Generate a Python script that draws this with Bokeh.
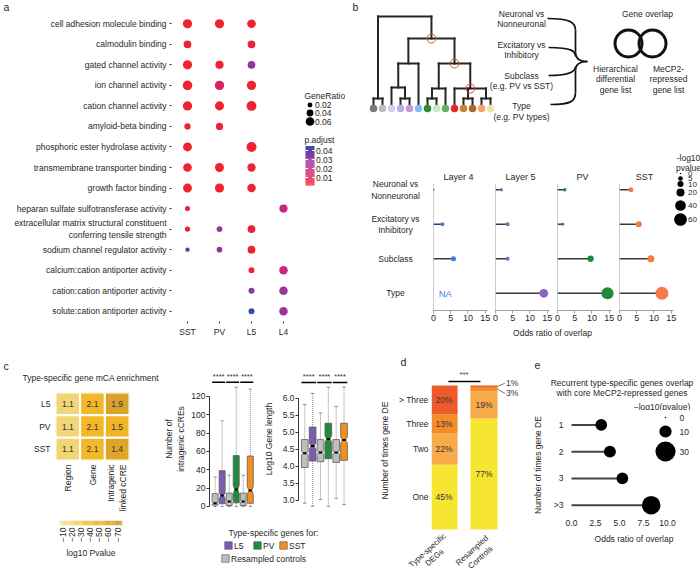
import math
import numpy as np
from bokeh.plotting import figure
from bokeh.models import (Range1d, Label, LinearAxis, FixedTicker,
                          NumeralTickFormatter, LinearColorMapper, ColumnDataSource)
from bokeh.layouts import row, column
from bokeh.transform import transform
from bokeh.core.properties import value
from bokeh.embed import file_html
from bokeh.resources import INLINE

FONT = "Liberation Sans"
FS = "8.5px"
TXT = "#1f1f1f"

# ---------------- panel a data ----------------
A_TERMS = ["cell adhesion molecule binding", "calmodulin binding", "gated channel activity",
           "ion channel activity", "cation channel activity", "amyloid-beta binding",
           "phosphoric ester hydrolase activity", "transmembrane transporter binding",
           "growth factor binding", "heparan sulfate sulfotransferase activity",
           "extracellular matrix structural constituent\nconferring tensile strength",
           "sodium channel regulator activity",
           "calcium:cation antiporter activity", "cation:cation antiporter activity",
           "solute:cation antiporter activity"]
A_GROUPS = ["SST", "PV", "L5", "L4"]
A_RATIO_SST = [0.065, 0.050, 0.065, 0.070, 0.066, 0.035, 0.062, 0.060, 0.062, 0.022, 0.025, 0.015, None, None, None]
A_PADJ_SST = [0.001, 0.003, 0.001, 0.001, 0.001, 0.003, 0.002, 0.002, 0.002, 0.004, 0.004, 0.045, None, None, None]
A_RATIO_PV = [0.065, None, 0.055, 0.068, 0.064, 0.045, None, 0.062, 0.064, None, 0.030, 0.028, None, None, None]
A_PADJ_PV = [0.002, None, 0.004, 0.012, 0.002, 0.003, None, 0.002, 0.002, None, 0.030, 0.030, None, None, None]
A_RATIO_L5 = [0.060, 0.050, 0.050, 0.066, 0.072, None, 0.074, 0.056, 0.058, None, 0.050, 0.050, 0.032, 0.032, 0.032]
A_PADJ_L5 = [0.003, 0.004, 0.030, 0.002, 0.002, None, 0.002, 0.003, 0.003, None, 0.004, 0.003, 0.005, 0.032, 0.045]
A_RATIO_L4 = [None, None, None, None, None, None, None, None, None, 0.055, None, None, 0.058, 0.058, 0.058]
A_PADJ_L4 = [None, None, None, None, None, None, None, None, None, 0.018, None, None, 0.018, 0.028, 0.028]
A_LEG_RATIO = [0.02, 0.04, 0.06]
A_LEG_PADJ = [0.01, 0.02, 0.03, 0.04]

# ---------------- panel b data ----------------
LEAF_COLORS = ["#7a7a7a", "#bdbdbd", "#d3ccf2", "#b9aae8", "#c49bda", "#86bde8", "#2f8f2f",
               "#c8e8bf", "#63b35e", "#e3262a", "#c8852e", "#b0642b", "#f4a55f", "#f7e0aa"]
MERGE_CHILDREN = [[0, 1], [3, 4], [2, 15], [16, 5], [6, 7], [18, 8], [10, 11], [12, 13],
                  [9, 20, 21], [19, 22], [17, 23], [14, 24]]
MERGE_HEIGHT = [10, 10, 21, 45, 10, 20, 10, 10, 20, 45, 70, 92]
MARKED_NODES = [22, 23, 24]

B_GROUPS = ["Layer 4", "Layer 5", "PV", "SST"]
B_LEVELS = ["Neuronal vs\nNonneuronal", "Excitatory vs\nInhibitory", "Subclass", "Type"]
B_OR_L4 = [0.1, 2.6, 5.8, None]
B_OR_L5 = [1.7, 3.5, 3.5, 14.0]
B_OR_PV = [2.1, 1.5, 9.6, 14.5]
B_OR_SST = [3.3, 5.6, 9.1, 12.3]
B_P_L4 = [0.2, 3, 6, None]
B_P_L5 = [1.5, 3, 3, 25]
B_P_PV = [2, 1, 11, 54]
B_P_SST = [6, 10, 15, 63]
B_COLORS = ["#3f7fd8", "#8a62c4", "#1e8a3a", "#f47a4a"]
B_LEG_VALUES = [0, 5, 10, 20, 40, 60]

# ---------------- panel c data ----------------
C_ROWS = ["L5", "PV", "SST"]
C_COLS = ["Region", "Gene", "Intragenic\nlinked cCRE"]
C_ENRICH_REGION = [1.1, 1.1, 1.1]
C_ENRICH_GENE = [2.1, 2.1, 2.1]
C_ENRICH_CCRE = [1.9, 1.5, 1.4]
C_LOGP_REGION = [-20, -20, -20]
C_LOGP_GENE = [-40, -41, -41]
C_LOGP_CCRE = [-63, -45, -60]
C_TICKS = [-10, -20, -30, -40, -50, -60, -70]

BOX_GROUPS = ["Resampled L5", "L5", "Resampled PV", "PV", "Resampled SST", "SST"]
BOX_COLORS = ["#bebebe", "#7b5cae", "#bebebe", "#1f8b3b", "#bebebe", "#f5901f"]
CCRE_Q1 = [1.5, 3, 1, 4, 1, 3.5]
CCRE_MED = [3.6, 12, 5.5, 18.5, 5.5, 17.5]
CCRE_Q3 = [14, 39, 14.5, 55.5, 14.5, 55]
CCRE_LO = [0, 0, 0, 0, 0, 0]
CCRE_HI = [32, 93.5, 34, 130, 34, 128]
CCRE_NOTCH = [1.2, 3.5, 1.2, 4.5, 1.2, 4.5]
LEN_Q1 = [3.97, 4.16, 4.14, 4.23, 4.12, 4.18]
LEN_MED = [4.39, 4.6, 4.41, 4.81, 4.41, 4.78]
LEN_Q3 = [4.79, 5.16, 4.79, 5.27, 4.79, 5.27]
LEN_LO = [2.92, 2.83, 3.03, 2.83, 3.06, 2.88]
LEN_HI = [5.82, 6.15, 5.57, 6.33, 5.76, 6.33]
LEN_NOTCH = [0.05, 0.1, 0.05, 0.1, 0.05, 0.1]
CCRE_TICKS = [0, 20, 40, 60, 80, 100, 120]
LEN_TICKS = [3.0, 3.5, 4.0, 4.5, 5.0, 5.5, 6.0]
SIG_TEXT = "****"

# ---------------- panel d data ----------------
D_CATS = ["One", "Two", "Three", "> Three"]
D_BARS = ["Type-specific\nDEGs", "Resampled\nControls"]
D_PCT_TYPE = [45, 22, 13, 20]
D_PCT_CTRL = [77, 19, 3, 1]
D_COLORS = ["#f7e631", "#f8ab4a", "#f58c2a", "#ee5b2b"]
D_SIG = "***"

# ---------------- panel e data ----------------
E_CATS = ["1", "2", "3", ">3"]
E_OR = [3.1, 4.0, 5.3, 8.3]
E_P = [9, 9.5, 9, 25]
E_TICKS = [0, 2.5, 5, 7.5, 10]
E_LEG_VALUES = [0, 10, 30]


# ---------------- helpers ----------------
def ramp(stops, n):
    rgb = [tuple(int(c[i:i + 2], 16) for i in (1, 3, 5)) for c in stops]
    out = []
    for k in range(n):
        t = k / (n - 1) * (len(rgb) - 1)
        i = min(int(t), len(rgb) - 2)
        f = t - i
        c = [round(rgb[i][j] + (rgb[i + 1][j] - rgb[i][j]) * f) for j in range(3)]
        out.append("#%02x%02x%02x" % tuple(c))
    return out


def slots_top_down(n):
    return [n - i - 0.5 for i in range(n)]


def slots_left_right(n):
    return [i + 0.5 for i in range(n)]


def mkfig(x0, y0, w, h, fl, ft, fw, fh, xr, yr, extra_y=None):
    p = figure(width=w, height=h, x_range=xr, y_range=yr, output_backend="svg",
               toolbar_location=None, x_axis_location=None, y_axis_location=None,
               min_border_left=fl, min_border_top=ft,
               min_border_right=w - fl - fw, min_border_bottom=h - ft - fh)
    p.outline_line_color = None
    p.background_fill_color = "white"
    p.border_fill_color = "white"
    p.xgrid.visible = False
    p.ygrid.visible = False
    ey = {"px": Range1d(y0 + ft + fh, y0 + ft)}
    if extra_y:
        ey.update(extra_y)
    p.extra_x_ranges = {"px": Range1d(x0 + fl, x0 + fl + fw)}
    p.extra_y_ranges = ey
    return p


def strip(x0, y0, w, h):
    return mkfig(x0, y0, w, h, 0, 0, w, h, Range1d(x0, x0 + w), Range1d(y0 + h, y0))


def lab(p, x, y, text, size=FS, align="center", baseline="middle", color=TXT, angle=0, lh=10.5):
    for i, line in enumerate(text.split("\n")):
        p.add_layout(Label(x=x, y=y + i * lh, text=line, x_range_name="px", y_range_name="px",
                           text_font=FONT, text_font_size=size, text_align=align,
                           text_baseline=baseline, text_color=color, angle=angle))


def style_axis(ax, size=FS, line=None, tick=None, tick_out=0, standoff=3):
    ax.axis_line_color = line
    ax.major_tick_line_color = tick
    ax.minor_tick_line_color = None
    ax.major_tick_out = tick_out
    ax.major_tick_in = 0
    ax.major_label_text_font = FONT
    ax.major_label_text_font_size = size
    ax.major_label_text_color = TXT
    ax.major_label_standoff = standoff
    ax.axis_label_text_font = FONT
    ax.axis_label_text_font_size = FS
    ax.axis_label_text_font_style = "normal"
    ax.axis_label_text_color = TXT


def cat_axis(ticks, names, **kw):
    return LinearAxis(ticker=FixedTicker(ticks=ticks),
                      major_label_overrides={t: n for t, n in zip(ticks, names)}, **kw)


def a_size(r):
    return 3.0 + 95 * r


def b_size(v):
    return 1.5 + 1.45 * math.sqrt(v)


def e_size(v):
    return 1.5 + 3.4 * math.sqrt(v)


# ================= panel a =================
A_PAL = ramp(["#f0222a", "#e3224c", "#d02678", "#b52c92", "#94369d", "#6e40a4", "#3c4ba8"], 64)
A_MAPPER = LinearColorMapper(palette=A_PAL, low=0.001, high=0.045)
A_XPOS = slots_left_right(len(A_GROUPS))
A_YPOS = slots_top_down(len(A_TERMS))

sa = strip(0, 0, 300, 13)
lab(sa, 3, 6.5, "a", size="10.5px", align="left")
pa = mkfig(0, 13, 300, 335, 171, 0, 128, 308, Range1d(0, len(A_GROUPS)), Range1d(0, len(A_TERMS)))
xa = cat_axis(A_XPOS, A_GROUPS)
style_axis(xa, tick="#333333", tick_out=2, standoff=3)
pa.add_layout(xa, "below")
ya = cat_axis(A_YPOS, A_TERMS)
style_axis(ya, tick="#333333", tick_out=2, standoff=3)
pa.add_layout(ya, "left")

ax_, ay_, ar_, ap_ = [], [], [], []
for gx, rs, ps in zip(A_XPOS, [A_RATIO_SST, A_RATIO_PV, A_RATIO_L5, A_RATIO_L4],
                      [A_PADJ_SST, A_PADJ_PV, A_PADJ_L5, A_PADJ_L4]):
    for ty, r, q in zip(A_YPOS, rs, ps):
        if r is not None:
            ax_.append(gx); ay_.append(ty); ar_.append(a_size(r)); ap_.append(q)
asrc = ColumnDataSource(dict(x=ax_, y=ay_, s=ar_, q=ap_))
pa.scatter("x", "y", size="s", source=asrc, fill_color=transform("q", A_MAPPER), line_color=None)

# legend for a
pal = mkfig(300, 0, 45, 348, 0, 0, 45, 348, Range1d(300, 345), Range1d(348, 0),
            extra_y={"padj": Range1d(-0.18, 0.20667)})
lab(pal, 304, 95, "GeneRatio", align="left")
leg_y = [104.5, 112.5, 121]
pal.scatter(x=[309.5] * 3, y=leg_y, size=[a_size(v) for v in A_LEG_RATIO], fill_color="black",
            line_color=None)
for v, yy in zip(A_LEG_RATIO, leg_y):
    lab(pal, 314.5, yy, "%.2f" % v, align="left")
lab(pal, 304, 139, "p.adjust", align="left")
stripes = np.linspace(A_MAPPER.low, A_MAPPER.high, 41)
cbs = ColumnDataSource(dict(b=stripes[:-1], t=stripes[1:], v=(stripes[:-1] + stripes[1:]) / 2))
pal.quad(left=305, right=314, bottom="b", top="t", source=cbs, fill_color=transform("v", A_MAPPER),
         line_color=None, y_range_name="padj")
pal.segment(x0=[305] * 4, y0=A_LEG_PADJ, x1=[307.5] * 4, y1=A_LEG_PADJ, line_color="white",
            line_width=1, y_range_name="padj")
pal.segment(x0=[311.5] * 4, y0=A_LEG_PADJ, x1=[314] * 4, y1=A_LEG_PADJ, line_color="white",
            line_width=1, y_range_name="padj")
pal.text(x=[315.5] * 4, y=A_LEG_PADJ, text=["%.2f" % v for v in A_LEG_PADJ], y_range_name="padj",
         text_align="left", text_baseline="middle", text_font=value(FONT),
         text_font_size=value(FS), text_color=TXT)

# ================= panel b (schematic) =================
LEAF_X0, LEAF_DX, LEAF_Y = 373, 9, 108
pbt = mkfig(345, 0, 355, 140, 0, 0, 355, 140,
            Range1d((345 - LEAF_X0) / LEAF_DX, (700 - LEAF_X0) / LEAF_DX),
            Range1d(LEAF_Y - 140, LEAF_Y - 0))
nx = list(range(len(LEAF_COLORS)))
nh = [0] * len(LEAF_COLORS)
sx0, sy0, sx1, sy1 = [], [], [], []
for ch, h in zip(MERGE_CHILDREN, MERGE_HEIGHT):
    sx0.append(nx[ch[0]]); sx1.append(nx[ch[-1]]); sy0.append(h); sy1.append(h)
    for c in ch:
        sx0.append(nx[c]); sx1.append(nx[c]); sy0.append(nh[c] + (3 if c < len(LEAF_COLORS) else 0)); sy1.append(h)
    nx.append((nx[ch[0]] + nx[ch[-1]]) / 2)
    nh.append(h)
pbt.segment(x0=sx0, y0=sy0, x1=sx1, y1=sy1, line_color="#262626", line_width=2, line_cap="square")
pbt.scatter(x=list(range(len(LEAF_COLORS))), y=[0] * len(LEAF_COLORS), size=7.5,
            fill_color=LEAF_COLORS, line_color=None)
pbt.scatter(x=[nx[n] for n in MARKED_NODES], y=[nh[n] for n in MARKED_NODES], size=9,
            fill_color=None, line_color="#e34a33", line_width=1)
lab(pbt, 352, 6, "b", size="10.5px", align="left")
lab(pbt, 521, 13, "Neuronal vs\nNonneuronal")
lab(pbt, 521, 44, "Excitatory vs\nInhibitory")
lab(pbt, 521, 75, "Subclass\n(e.g. PV vs SST)")
lab(pbt, 521, 105, "Type\n(e.g. PV types)", lh=11.5)
lab(pbt, 647, 13, "Gene overlap")
lab(pbt, 615, 68, "Hierarchical\ndifferential\ngene list")
lab(pbt, 668, 68, "MeCP2-\nrepressed\ngene list")
bz = dict(
    x0=[547, 575, 575, 587, 575, 575, 548, 548], y0=[18, 30, 52, 61, 70, 92, 47, 75],
    x1=[575, 575, 587, 575, 575, 550, 575, 575], y1=[30, 52, 61, 70, 92, 104, 56, 66],
    cx0=[570, 575, 575, 580, 575, 575, 572, 572], cy0=[18, 30, 59, 61, 70, 101, 47, 75],
    cx1=[575, 575, 580, 575, 575, 570, 575, 575], cy1=[22, 52, 61, 63, 92, 104, 51, 70])
pbt.bezier(source=ColumnDataSource(bz), x0="x0", y0="y0", x1="x1", y1="y1", cx0="cx0", cy0="cy0",
           cx1="cx1", cy1="cy1", line_color="#111111", line_width=1.7,
           x_range_name="px", y_range_name="px")
pbt.scatter(x=[628, 652], y=[43, 43], size=27, fill_color=None, line_color="#111111", line_width=3,
            x_range_name="px", y_range_name="px")

# ================= panel b (lollipops) =================
B_YPOS = slots_top_down(len(B_LEVELS))
B_ROW_PX = 34.5
b_rows = Range1d(0, len(B_LEVELS) + 22 / B_ROW_PX)
B_PX_PER_UNIT = 3.447
pbr = mkfig(345, 140, 84, 186, 0, 10, 84, 160, Range1d(345, 429), b_rows)
pbr.text(x=[395] * 4, y=B_YPOS, text=B_LEVELS, text_align="center", text_baseline="middle",
         text_font=value(FONT), text_font_size=value(FS), text_color=TXT, text_line_height=1.15)
facets = []
for gi, (g, ors, ps) in enumerate(zip(B_GROUPS, [B_OR_L4, B_OR_L5, B_OR_PV, B_OR_SST],
                                      [B_P_L4, B_P_L5, B_P_PV, B_P_SST])):
    x0 = 429 + 62 * gi
    fw = 58 if gi < 3 else 81
    f = mkfig(x0, 140, fw + 4, 186, 4, 10, fw, 160, Range1d(0, fw / B_PX_PER_UNIT), b_rows)
    bx = LinearAxis(ticker=FixedTicker(ticks=[0, 5, 10, 15]), bounds=(0, 15.6))
    style_axis(bx, size="9px", line="#a0a0a0", tick="#a0a0a0", tick_out=3, standoff=1)
    f.add_layout(bx, "below")
    f.segment(x0=[0], y0=[0], x1=[0], y1=[len(B_LEVELS) - 0.33], line_color="#a0a0a0", line_width=1)
    lv = [l for l, v in zip(B_YPOS, ors) if v is not None]
    ov = [v for v in ors if v is not None]
    pv = [q for q in ps if q is not None]
    f.segment(x0=[0] * len(ov), y0=lv, x1=ov, y1=lv, line_color="#3a3a3a", line_width=1.5)
    f.scatter(x=ov, y=lv, size=[b_size(q) for q in pv], fill_color=B_COLORS[gi], line_color=None)
    for l, v in zip(B_YPOS, ors):
        if v is None:
            f.text(x=[1.5], y=[l], text=["NA"], text_align="left", text_baseline="middle",
                   text_font=value(FONT), text_font_size=value("9.5px"), text_color=B_COLORS[gi])
    lab(f, x0 + 4 + 25, 176, g, size="9px")
    facets.append(f)

# size legend for b (inside the widened SST facet)
fl_ = facets[-1]
lab(fl_, 688, 157, "-log10\npvalue", size="8.5px", lh=10)
leg_by = [173, 178, 183.5, 192, 205, 219]
fl_.scatter(x=[680] * 6, y=leg_by, size=[b_size(v) for v in B_LEG_VALUES], fill_color="black",
            line_color=None, x_range_name="px", y_range_name="px")
for v, yy in zip(B_LEG_VALUES, leg_by):
    lab(fl_, 687.5, yy, str(v), size="8px", align="left")

pbx = strip(345, 326, 355, 22)
lab(pbx, 552, 332, "Odds ratio of overlap")

# ================= panel c heatmap =================
C_PAL = ramp(["#c9982f", "#d8a22a", "#eaae25", "#f3b727", "#f4c64c", "#f1d77e", "#efe3a8"], 64)
C_MAPPER = LinearColorMapper(palette=C_PAL, low=-75.4, high=-6.7)
C_XPOS = slots_left_right(len(C_COLS))
C_YPOS = slots_top_down(len(C_ROWS))
sc = strip(0, 348, 161, 38)
lab(sc, 3, 365, "c", size="10.5px", align="left")
lab(sc, 22, 377, "Type-specific gene mCA enrichment", align="left")
phe = mkfig(0, 386, 161, 128, 55, 6, 74, 69, Range1d(0, len(C_COLS)), Range1d(0, len(C_ROWS)))
hx, hy, hv, ht = [], [], [], []
for cx, enr, lp in zip(C_XPOS, [C_ENRICH_REGION, C_ENRICH_GENE, C_ENRICH_CCRE],
                       [C_LOGP_REGION, C_LOGP_GENE, C_LOGP_CCRE]):
    for ry, e, v in zip(C_YPOS, enr, lp):
        hx.append(cx); hy.append(ry); hv.append(v); ht.append("%.1f" % e)
hsrc = ColumnDataSource(dict(x=hx, y=hy, v=hv, t=ht))
phe.rect("x", "y", width=1, height=1, source=hsrc, fill_color=transform("v", C_MAPPER),
         line_color="white", line_width=2)
phe.text("x", "y", text="t", source=hsrc, text_align="center", text_baseline="middle",
         text_font=value(FONT), text_font_size=value(FS), text_color="#333333")
hxa = cat_axis(C_XPOS, C_COLS, major_label_orientation=math.pi / 2)
style_axis(hxa, standoff=4)
phe.add_layout(hxa, "below")
hya = cat_axis(C_YPOS, C_ROWS)
style_axis(hya, standoff=5)
phe.add_layout(hya, "left")

pcb = mkfig(0, 514, 161, 58, 59, 6, 63, 5, Range1d(-6.7, -75.4), Range1d(0, 1))
cst = np.linspace(-6.7, -75.4, 70)
csrc = ColumnDataSource(dict(l=cst[:-1], r=cst[1:], v=(cst[:-1] + cst[1:]) / 2))
pcb.quad(left="l", right="r", bottom=0, top=1, source=csrc, fill_color=transform("v", C_MAPPER),
         line_color=None)
cba = LinearAxis(ticker=FixedTicker(ticks=C_TICKS), major_label_orientation=math.pi / 2,
                 axis_label="log10 Pvalue")
style_axis(cba, standoff=2)
cba.axis_label_standoff = 3
pcb.add_layout(cba, "below")

# ================= panel c boxplots =================
def draw_boxes(p, q1, med, q3, lo, hi, notch, w=0.85):
    xs, ys = [], []
    pos = [i + 1 for i in range(len(q1))]
    for x, a, m, b, n in zip(pos, q1, med, q3, notch):
        hw, qw = w / 2, w / 4
        xs.append([x - hw, x + hw, x + hw, x + qw, x + hw, x + hw, x - hw, x - hw, x - qw, x - hw])
        ys.append([a, a, m - n, m, m + n, b, b, m + n, m, m - n])
    p.segment(x0=pos, y0=q3, x1=pos, y1=hi, line_color="#8c8c8c", line_dash="1 1", line_width=1)
    p.segment(x0=pos, y0=q1, x1=pos, y1=lo, line_color="#8c8c8c", line_dash="1 1", line_width=1)
    p.segment(x0=[x - 0.22 for x in pos], y0=hi, x1=[x + 0.22 for x in pos], y1=hi,
              line_color="#8c8c8c", line_width=1)
    p.segment(x0=[x - 0.22 for x in pos], y0=lo, x1=[x + 0.22 for x in pos], y1=lo,
              line_color="#8c8c8c", line_width=1)
    p.patches(xs, ys, fill_color=BOX_COLORS, line_color="#5a5a5a", line_width=0.8)
    p.segment(x0=[x - w / 4 for x in pos], y0=med, x1=[x + w / 4 for x in pos], y1=med,
              line_color="black", line_width=2)


def draw_sig(p, ys, w=0.85):
    p.segment(x0=[1 - w / 2, 3 - w / 2, 5 - w / 2], y0=[ys[0]] * 3,
              x1=[2 + w / 2, 4 + w / 2, 6 + w / 2], y1=[ys[0]] * 3, line_color="black", line_width=1.5)
    p.text(x=[1.5, 3.5, 5.5], y=[ys[1]] * 3, text=[SIG_TEXT] * 3, text_align="center",
           text_baseline="bottom", text_font=value(FONT), text_font_size=value("7.5px"),
           text_color="#333333")


pb1 = mkfig(161, 348, 99, 164, 42, 20, 51, 141, Range1d(0.2, 6.6), Range1d(-3.3, 150.5))
draw_boxes(pb1, CCRE_Q1, CCRE_MED, CCRE_Q3, CCRE_LO, CCRE_HI, CCRE_NOTCH)
draw_sig(pb1, [135.5, 137])
b1a = LinearAxis(ticker=FixedTicker(ticks=CCRE_TICKS), bounds=(0, 120),
                 axis_label="Number of\nintragenic cCREs")
style_axis(b1a, line="#333333", tick="#333333", tick_out=3, standoff=1)
b1a.axis_label_standoff = 2
pb1.add_layout(b1a, "left")

pb2 = mkfig(260, 348, 101, 164, 37, 20, 54, 141, Range1d(0.2, 6.95), Range1d(2.735, 6.88))
draw_boxes(pb2, LEN_Q1, LEN_MED, LEN_Q3, LEN_LO, LEN_HI, LEN_NOTCH)
draw_sig(pb2, [6.47, 6.52])
b2a = LinearAxis(ticker=FixedTicker(ticks=LEN_TICKS), bounds=(3, 6), axis_label="Log10 Gene length",
                 formatter=NumeralTickFormatter(format="0.0"))
style_axis(b2a, line="#333333", tick="#333333", tick_out=3, standoff=1)
b2a.axis_label_standoff = 6
pb2.add_layout(b2a, "left")

pcl = strip(161, 512, 200, 60)
lab(pcl, 273, 532, "Type-specific genes for:")
pcl.scatter(x=[228, 257, 283, 225], y=[545, 545, 545, 558], marker="square", size=7.5,
            fill_color=[BOX_COLORS[1], BOX_COLORS[3], BOX_COLORS[5], BOX_COLORS[0]],
            line_color="#555555", line_width=0.6)
lab(pcl, 233.5, 545, BOX_GROUPS[1], align="left")
lab(pcl, 262.5, 545, BOX_GROUPS[3], align="left")
lab(pcl, 288.5, 545, BOX_GROUPS[5], align="left")
lab(pcl, 230.5, 558, "Resampled controls", align="left")

# ================= panel d =================
sd = strip(361, 348, 159, 21)
lab(sd, 400, 361.5, "d", size="10.5px", align="left")
D_PX_X, D_PX_Y = 40.0, 1.44
pdd = mkfig(361, 369, 159, 162, 70, 0, 89, 162,
            Range1d(1 - 12.5 / D_PX_X, 1 - 12.5 / D_PX_X + 89 / D_PX_X),
            Range1d(-2 / D_PX_Y, -2 / D_PX_Y + 162 / D_PX_Y))
bot = [0, 0]
mids1 = []
for ci, cat in enumerate(D_CATS):
    vals = [D_PCT_TYPE[ci], D_PCT_CTRL[ci]]
    tops = [bot[0] + vals[0], bot[1] + vals[1]]
    pdd.vbar(x=[1, 2], bottom=bot, top=tops, width=0.68, fill_color=D_COLORS[ci], line_color=None)
    mids = [(b + t) / 2 for b, t in zip(bot, tops)]
    mids1.append(mids[0])
    pdd.text(x=[1], y=[mids[0]], text=["%d%%" % vals[0]], text_align="center", text_baseline="middle",
             text_font=value(FONT), text_font_size=value(FS), text_color="#333333")
    if vals[1] >= 5:
        pdd.text(x=[2], y=[mids[1]], text=["%d%%" % vals[1]], text_align="center",
                 text_baseline="middle", text_font=value(FONT), text_font_size=value(FS),
                 text_color="#333333")
    else:
        ly = 101.5 if ci == len(D_CATS) - 1 else 94.5
        pdd.segment(x0=[2.34], y0=[mids[1]], x1=[2.52], y1=[ly], line_color="#555555", line_width=0.8)
        pdd.text(x=[2.55], y=[ly], text=["%d%%" % vals[1]], text_align="left", text_baseline="middle",
                 text_font=value(FONT), text_font_size=value(FS), text_color="#333333")
    bot = tops
pdd.segment(x0=[1.11], y0=[102.8], x1=[1.91], y1=[102.8], line_color="black", line_width=1.5)
pdd.text(x=[1.5], y=[104.3], text=[D_SIG], text_align="center", text_baseline="bottom",
         text_font=value(FONT), text_font_size=value("7.5px"), text_color="#333333")
dya = cat_axis(mids1, D_CATS, axis_label="Number of times gene DE")
style_axis(dya, standoff=3)
dya.axis_label_standoff = 6
pdd.add_layout(dya, "left")
sdl = strip(361, 531, 159, 41)
xlab_pos = [[(427, 550), (434, 557)], [(471.5, 550), (480, 557)]]
for name, pos in zip(D_BARS, xlab_pos):
    for line, (px_, py_) in zip(name.split("\n"), pos):
        lab(sdl, px_, py_, line, size="8px", angle=math.radians(42))

# ================= panel e =================
se = strip(520, 348, 180, 62)
lab(se, 534, 364, "e", size="10.5px", align="left")
lab(se, 621.5, 382, "Recurrent type-specific genes overlap\nwith core MeCP2-repressed genes")
lab(se, 661.5, 406, "\u2212log10(pvalue)")
E_YPOS = slots_top_down(len(E_CATS))
E_PX_X = 9.6
pe = mkfig(520, 410, 180, 162, 47, 1, 133, 107,
           Range1d(-4 / E_PX_X, -4 / E_PX_X + 133 / E_PX_X), Range1d(0, len(E_CATS)))
pe.segment(x0=[0] * 4, y0=E_YPOS, x1=E_OR, y1=E_YPOS, line_color="#444444", line_width=2)
pe.scatter(x=E_OR, y=E_YPOS, size=[e_size(v) for v in E_P], fill_color="black", line_color=None)
exa = LinearAxis(ticker=FixedTicker(ticks=E_TICKS), formatter=NumeralTickFormatter(format="0.0"),
                 axis_label="Odds ratio of overlap")
style_axis(exa, standoff=1)
exa.axis_label_standoff = 5
pe.add_layout(exa, "below")
eya = cat_axis(E_YPOS, E_CATS, axis_label="Number of times gene DE")
style_axis(eya, standoff=4)
eya.axis_label_standoff = 8
pe.add_layout(eya, "left")
leg_ey = [417, 431, 451]
pe.scatter(x=[665] * 3, y=leg_ey, size=[e_size(v) for v in E_LEG_VALUES], fill_color="black",
           line_color=None, x_range_name="px", y_range_name="px")
for v, yy in zip(E_LEG_VALUES, leg_ey):
    lab(pe, 679, yy, str(v), align="left")

# ================= layout =================
top = row(column(row(sa), pa), pal, column(pbt, row(pbr, *facets), pbx))
bottom = row(column(row(sc), phe, row(pcb)), column(row(pb1, pb2), pcl),
             column(row(sd), pdd, row(sdl)), column(row(se), pe))
layout = column(top, bottom)
open("out.html", "w").write(file_html(layout, INLINE))
